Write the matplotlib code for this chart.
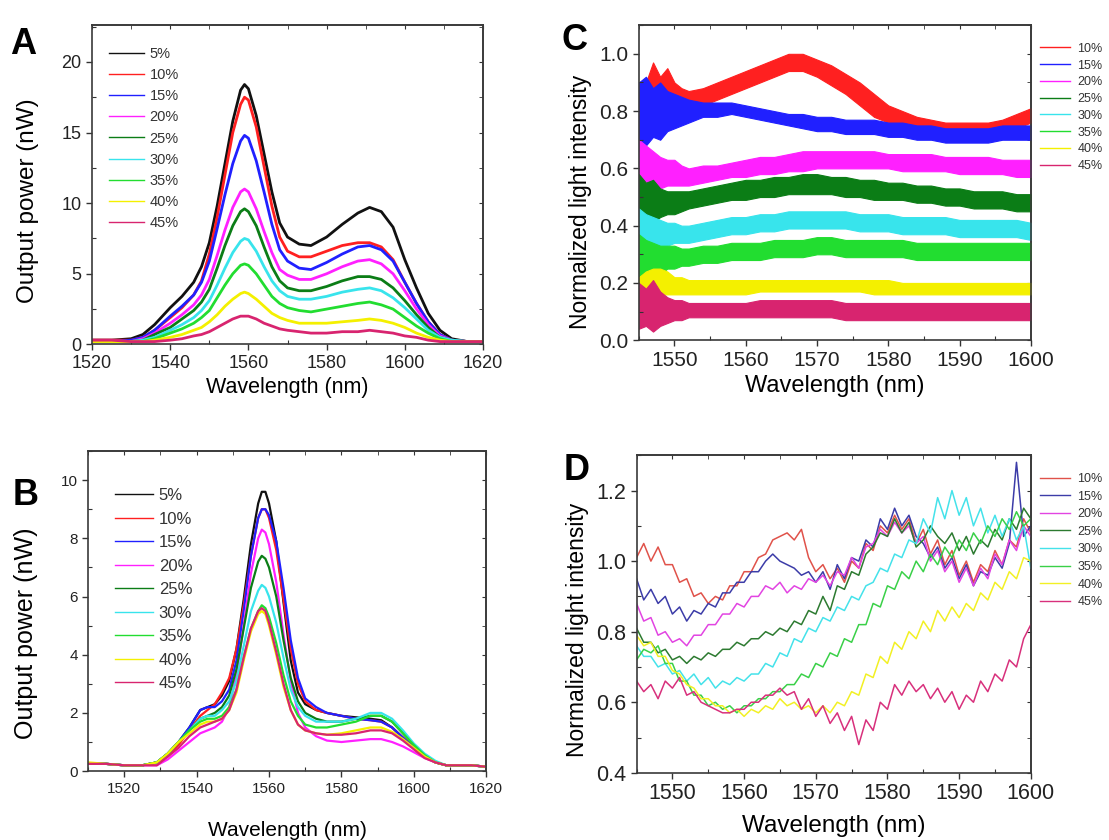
### ESPECTROS DE SALIDA Y SU INTENSIDAD NORMALIZADA (PANELES A-D) ###

import numpy as np
import matplotlib
matplotlib.use("Agg")
import matplotlib.pyplot as plt
from matplotlib.ticker import MultipleLocator
from matplotlib.lines import Line2D

plt.rcParams['font.family'] = ['Liberation Sans', 'DejaVu Sans']

# Etiquetas de las series
etiquetas_ab = ["5%", "10%", "15%", "20%", "25%", "30%", "35%", "40%", "45%"]
etiquetas_cd = ["10%", "15%", "20%", "25%", "30%", "35%", "40%", "45%"]

# Colores (5% ... 45%)
colores = ["#111111", "#ff2020", "#2020ff", "#ff20ff", "#0b7d16",
           "#38e4ec", "#22dd30", "#f4f000", "#d8246f"]
colores_d = ["#e0524a", "#3c3ca8", "#e244e2", "#2c7a30",
             "#44e2ea", "#3ad048", "#f2f024", "#d8307c"]

# ---------------- Panel A: potencia de salida (nW) ----------------
wl_a = [1520, 1525, 1530, 1533, 1536, 1540, 1543, 1546, 1548, 1550,
        1552, 1554, 1556, 1558, 1559, 1560, 1562, 1564, 1566, 1568,
        1570, 1573, 1576, 1580, 1584, 1588, 1591, 1594, 1597, 1600,
        1603, 1606, 1609, 1612, 1616, 1620]
a_05 = [0.3, 0.3, 0.4, 0.7, 1.4, 2.6, 3.4, 4.4, 5.5, 7.2,
        9.8, 12.8, 15.8, 18.0, 18.4, 18.1, 16.2, 13.5, 10.8, 8.6,
        7.6, 7.1, 7.0, 7.6, 8.5, 9.3, 9.7, 9.4, 8.3, 6.0,
        4.0, 2.2, 1.0, 0.4, 0.2, 0.2]
a_10 = [0.3, 0.3, 0.3, 0.5, 1.0, 1.9, 2.6, 3.5, 4.5, 6.4,
        9.0, 12.0, 15.0, 17.0, 17.5, 17.3, 15.4, 12.6, 9.8, 7.6,
        6.6, 6.2, 6.2, 6.6, 7.0, 7.2, 7.2, 6.9, 6.0, 4.4,
        2.9, 1.6, 0.7, 0.3, 0.2, 0.2]
a_15 = [0.2, 0.2, 0.3, 0.5, 1.0, 2.0, 2.7, 3.5, 4.4, 5.9,
        8.2, 10.6, 12.8, 14.4, 14.8, 14.6, 13.0, 10.8, 8.5, 6.7,
        5.9, 5.4, 5.3, 5.8, 6.4, 6.9, 7.0, 6.7, 5.9, 4.4,
        2.9, 1.6, 0.7, 0.3, 0.2, 0.2]
a_20 = [0.2, 0.2, 0.2, 0.4, 0.8, 1.5, 2.1, 2.8, 3.5, 4.6,
        6.3, 8.1, 9.7, 10.8, 11.0, 10.8, 9.6, 8.0, 6.5, 5.3,
        4.9, 4.6, 4.6, 5.0, 5.5, 5.9, 6.0, 5.7, 5.0, 3.8,
        2.5, 1.4, 0.6, 0.3, 0.2, 0.2]
a_25 = [0.2, 0.2, 0.2, 0.3, 0.7, 1.2, 1.8, 2.4, 3.0, 3.9,
        5.4, 7.0, 8.4, 9.4, 9.6, 9.4, 8.4, 6.9, 5.5, 4.5,
        4.0, 3.8, 3.8, 4.1, 4.5, 4.8, 4.8, 4.6, 4.0, 3.1,
        2.1, 1.2, 0.5, 0.3, 0.2, 0.2]
a_30 = [0.2, 0.2, 0.2, 0.3, 0.5, 1.0, 1.4, 1.9, 2.4, 3.1,
        4.2, 5.4, 6.5, 7.3, 7.5, 7.4, 6.6, 5.5, 4.5, 3.8,
        3.4, 3.2, 3.2, 3.4, 3.7, 3.9, 4.0, 3.8, 3.3, 2.6,
        1.8, 1.0, 0.5, 0.3, 0.2, 0.2]
a_35 = [0.2, 0.2, 0.2, 0.2, 0.4, 0.8, 1.1, 1.5, 1.9, 2.4,
        3.3, 4.2, 5.0, 5.6, 5.7, 5.6, 5.0, 4.2, 3.4, 2.9,
        2.6, 2.4, 2.3, 2.5, 2.7, 2.9, 3.0, 2.8, 2.5, 1.9,
        1.3, 0.8, 0.4, 0.2, 0.2, 0.2]
a_40 = [0.2, 0.2, 0.2, 0.2, 0.3, 0.5, 0.7, 1.0, 1.2, 1.6,
        2.1, 2.7, 3.2, 3.6, 3.7, 3.6, 3.2, 2.7, 2.2, 1.9,
        1.7, 1.5, 1.5, 1.5, 1.6, 1.7, 1.8, 1.7, 1.5, 1.2,
        0.8, 0.5, 0.3, 0.2, 0.2, 0.2]
a_45 = [0.3, 0.3, 0.2, 0.2, 0.2, 0.3, 0.4, 0.6, 0.7, 0.9,
        1.2, 1.5, 1.8, 2.0, 2.0, 2.0, 1.8, 1.5, 1.3, 1.1,
        1.0, 0.9, 0.8, 0.8, 0.9, 0.9, 1.0, 0.9, 0.8, 0.6,
        0.5, 0.3, 0.2, 0.2, 0.2, 0.2]

# ---------------- Panel B: potencia de salida (nW) ----------------
wl_b = [1510, 1515, 1520, 1525, 1529, 1532, 1535, 1538, 1541, 1543,
        1545, 1547, 1549, 1551, 1553, 1555, 1557, 1558, 1559, 1560,
        1562, 1564, 1566, 1568, 1570, 1573, 1576, 1580, 1584, 1588,
        1591, 1594, 1597, 1600, 1603, 1606, 1609, 1612, 1616, 1620]
b_05 = [0.25, 0.25, 0.2, 0.2, 0.3, 0.6, 1.0, 1.5, 2.1, 2.2,
        2.3, 2.6, 3.1, 4.2, 5.9, 7.8, 9.2, 9.6, 9.6, 9.2,
        7.9, 5.8, 3.8, 2.7, 2.3, 2.1, 2.0, 1.9, 1.85, 1.8,
        1.75, 1.5, 1.15, 0.8, 0.5, 0.3, 0.2, 0.2, 0.2, 0.15]
b_10 = [0.25, 0.25, 0.2, 0.2, 0.3, 0.5, 0.9, 1.4, 1.9, 2.1,
        2.3, 2.7, 3.2, 4.2, 5.7, 7.4, 8.7, 9.0, 9.0, 8.7,
        7.6, 5.9, 4.2, 3.0, 2.4, 2.1, 2.0, 1.9, 1.8, 1.75,
        1.7, 1.5, 1.15, 0.8, 0.5, 0.3, 0.2, 0.2, 0.2, 0.15]
b_15 = [0.25, 0.25, 0.2, 0.2, 0.3, 0.6, 1.0, 1.5, 2.1, 2.2,
        2.2, 2.4, 2.8, 3.8, 5.5, 7.4, 8.7, 9.0, 9.0, 8.8,
        7.9, 6.3, 4.5, 3.2, 2.5, 2.2, 2.0, 1.9, 1.8, 1.75,
        1.7, 1.5, 1.15, 0.8, 0.5, 0.3, 0.2, 0.2, 0.2, 0.15]
b_20 = [0.25, 0.25, 0.2, 0.2, 0.2, 0.4, 0.7, 1.0, 1.3, 1.4,
        1.5, 1.7, 2.2, 3.3, 5.0, 6.8, 8.0, 8.3, 8.2, 7.8,
        6.5, 4.7, 3.1, 2.0, 1.5, 1.2, 1.05, 1.0, 1.05, 1.1,
        1.1, 1.0, 0.85, 0.65, 0.45, 0.3, 0.2, 0.2, 0.2, 0.15]
b_25 = [0.25, 0.25, 0.2, 0.2, 0.3, 0.6, 1.0, 1.4, 1.8, 1.9,
        2.0, 2.2, 2.6, 3.5, 4.9, 6.3, 7.2, 7.4, 7.3, 7.0,
        6.0, 4.5, 3.2, 2.4, 2.0, 1.8, 1.7, 1.7, 1.8, 1.9,
        1.9, 1.7, 1.3, 0.9, 0.55, 0.3, 0.2, 0.2, 0.2, 0.15]
b_30 = [0.25, 0.25, 0.2, 0.2, 0.3, 0.6, 1.0, 1.4, 1.8, 1.9,
        1.9, 2.1, 2.4, 3.1, 4.3, 5.5, 6.2, 6.4, 6.3, 6.0,
        5.1, 3.9, 2.8, 2.2, 1.9, 1.7, 1.7, 1.7, 1.8, 2.0,
        2.0, 1.8, 1.4, 0.95, 0.6, 0.35, 0.2, 0.2, 0.2, 0.15]
b_35 = [0.25, 0.25, 0.2, 0.2, 0.3, 0.6, 1.0, 1.4, 1.7, 1.8,
        1.8, 1.9, 2.2, 2.8, 3.9, 4.9, 5.5, 5.7, 5.6, 5.3,
        4.4, 3.3, 2.4, 1.9, 1.6, 1.5, 1.5, 1.6, 1.7, 1.9,
        1.9, 1.7, 1.3, 0.9, 0.55, 0.3, 0.2, 0.2, 0.2, 0.15]
b_40 = [0.3, 0.25, 0.2, 0.2, 0.3, 0.6, 1.0, 1.3, 1.6, 1.7,
        1.7, 1.8, 2.1, 2.7, 3.8, 4.8, 5.4, 5.5, 5.4, 5.0,
        4.0, 2.9, 2.1, 1.6, 1.4, 1.3, 1.25, 1.3, 1.4, 1.5,
        1.5, 1.35, 1.1, 0.8, 0.5, 0.3, 0.2, 0.2, 0.2, 0.15]
b_45 = [0.25, 0.25, 0.2, 0.2, 0.2, 0.5, 0.8, 1.2, 1.5, 1.6,
        1.7, 1.8, 2.1, 2.8, 3.9, 4.9, 5.5, 5.6, 5.5, 5.1,
        4.1, 3.0, 2.1, 1.6, 1.4, 1.3, 1.25, 1.25, 1.3, 1.4,
        1.4, 1.3, 1.05, 0.75, 0.45, 0.3, 0.2, 0.2, 0.2, 0.15]

# ---------------- Panel C: intensidad normalizada (banda min-max) ----------------
wl_c = [1545, 1546, 1547, 1548, 1549, 1550, 1551, 1552, 1554, 1556,
        1558, 1560, 1562, 1564, 1566, 1568, 1570, 1572, 1574, 1576,
        1578, 1580, 1582, 1584, 1586, 1588, 1590, 1592, 1594, 1596,
        1598, 1600]
c_10_alto = [0.86, 0.90, 0.97, 0.92, 0.95, 0.90, 0.88, 0.87, 0.88, 0.90,
             0.92, 0.94, 0.96, 0.98, 1.00, 1.00, 0.98, 0.96, 0.93, 0.90,
             0.86, 0.82, 0.80, 0.78, 0.77, 0.76, 0.76, 0.76, 0.76, 0.77,
             0.79, 0.81]
c_10_bajo = [0.72, 0.70, 0.74, 0.73, 0.75, 0.77, 0.78, 0.79, 0.82, 0.84,
             0.86, 0.88, 0.90, 0.92, 0.94, 0.94, 0.92, 0.89, 0.86, 0.82,
             0.78, 0.76, 0.74, 0.73, 0.72, 0.72, 0.72, 0.72, 0.72, 0.73,
             0.74, 0.76]
c_15_alto = [0.90, 0.92, 0.88, 0.90, 0.87, 0.86, 0.85, 0.84, 0.83, 0.83,
             0.83, 0.82, 0.81, 0.80, 0.79, 0.79, 0.78, 0.78, 0.77, 0.77,
             0.77, 0.76, 0.76, 0.75, 0.75, 0.74, 0.74, 0.74, 0.74, 0.75,
             0.75, 0.75]
c_15_bajo = [0.66, 0.68, 0.71, 0.70, 0.73, 0.74, 0.75, 0.76, 0.78, 0.78,
             0.79, 0.78, 0.77, 0.76, 0.75, 0.74, 0.73, 0.73, 0.72, 0.72,
             0.72, 0.71, 0.71, 0.70, 0.70, 0.69, 0.69, 0.69, 0.69, 0.70,
             0.70, 0.70]
c_20_alto = [0.70, 0.68, 0.66, 0.64, 0.63, 0.63, 0.61, 0.60, 0.61, 0.61,
             0.62, 0.63, 0.64, 0.64, 0.65, 0.66, 0.66, 0.66, 0.66, 0.66,
             0.66, 0.65, 0.65, 0.65, 0.65, 0.64, 0.64, 0.64, 0.64, 0.63,
             0.63, 0.63]
c_20_bajo = [0.50, 0.52, 0.52, 0.53, 0.54, 0.54, 0.54, 0.54, 0.55, 0.56,
             0.57, 0.57, 0.58, 0.58, 0.59, 0.59, 0.60, 0.60, 0.60, 0.60,
             0.60, 0.60, 0.59, 0.59, 0.59, 0.59, 0.58, 0.58, 0.58, 0.58,
             0.57, 0.57]
c_25_alto = [0.58, 0.55, 0.56, 0.53, 0.52, 0.52, 0.52, 0.52, 0.53, 0.54,
             0.55, 0.56, 0.56, 0.57, 0.57, 0.58, 0.58, 0.57, 0.57, 0.56,
             0.56, 0.55, 0.55, 0.54, 0.54, 0.53, 0.53, 0.52, 0.52, 0.52,
             0.51, 0.51]
c_25_bajo = [0.36, 0.39, 0.41, 0.43, 0.44, 0.44, 0.45, 0.46, 0.47, 0.48,
             0.49, 0.49, 0.50, 0.50, 0.51, 0.51, 0.51, 0.51, 0.50, 0.50,
             0.49, 0.49, 0.49, 0.48, 0.48, 0.47, 0.47, 0.46, 0.46, 0.46,
             0.45, 0.45]
c_30_alto = [0.46, 0.44, 0.43, 0.42, 0.41, 0.41, 0.40, 0.40, 0.41, 0.42,
             0.43, 0.43, 0.44, 0.44, 0.45, 0.45, 0.45, 0.45, 0.45, 0.44,
             0.44, 0.44, 0.43, 0.43, 0.43, 0.43, 0.42, 0.42, 0.42, 0.42,
             0.42, 0.41]
c_30_bajo = [0.27, 0.29, 0.31, 0.32, 0.33, 0.34, 0.34, 0.34, 0.35, 0.36,
             0.37, 0.37, 0.38, 0.38, 0.39, 0.39, 0.39, 0.39, 0.39, 0.38,
             0.38, 0.38, 0.37, 0.37, 0.37, 0.37, 0.36, 0.36, 0.36, 0.36,
             0.36, 0.35]
c_35_alto = [0.37, 0.35, 0.34, 0.33, 0.33, 0.33, 0.32, 0.32, 0.33, 0.33,
             0.34, 0.34, 0.34, 0.35, 0.35, 0.35, 0.36, 0.36, 0.35, 0.35,
             0.35, 0.35, 0.35, 0.34, 0.34, 0.34, 0.34, 0.34, 0.34, 0.34,
             0.34, 0.34]
c_35_bajo = [0.20, 0.21, 0.22, 0.23, 0.25, 0.25, 0.26, 0.26, 0.27, 0.27,
             0.28, 0.28, 0.28, 0.29, 0.29, 0.29, 0.30, 0.30, 0.29, 0.29,
             0.29, 0.29, 0.29, 0.28, 0.28, 0.28, 0.28, 0.28, 0.28, 0.28,
             0.28, 0.28]
c_40_alto = [0.22, 0.24, 0.25, 0.25, 0.24, 0.22, 0.22, 0.21, 0.21, 0.21,
             0.21, 0.21, 0.21, 0.21, 0.21, 0.21, 0.21, 0.21, 0.21, 0.21,
             0.21, 0.21, 0.20, 0.20, 0.20, 0.20, 0.20, 0.20, 0.20, 0.20,
             0.20, 0.20]
c_40_bajo = [0.15, 0.16, 0.16, 0.16, 0.16, 0.16, 0.16, 0.16, 0.16, 0.16,
             0.16, 0.16, 0.17, 0.17, 0.17, 0.17, 0.17, 0.17, 0.17, 0.17,
             0.16, 0.16, 0.16, 0.16, 0.16, 0.16, 0.16, 0.16, 0.16, 0.16,
             0.16, 0.16]
c_45_alto = [0.20, 0.18, 0.21, 0.17, 0.15, 0.14, 0.14, 0.13, 0.13, 0.13,
             0.13, 0.13, 0.14, 0.14, 0.14, 0.14, 0.14, 0.14, 0.13, 0.13,
             0.13, 0.13, 0.13, 0.13, 0.13, 0.13, 0.13, 0.13, 0.13, 0.13,
             0.13, 0.13]
c_45_bajo = [0.04, 0.05, 0.03, 0.05, 0.06, 0.07, 0.07, 0.08, 0.08, 0.08,
             0.08, 0.08, 0.08, 0.08, 0.08, 0.08, 0.08, 0.08, 0.07, 0.07,
             0.07, 0.07, 0.07, 0.07, 0.07, 0.07, 0.07, 0.07, 0.07, 0.07,
             0.07, 0.07]

# ---------------- Panel D: intensidad normalizada ----------------
wl_d = np.arange(1545, 1601)
d_10 = [1.01, 1.05, 1.00, 1.04, 0.99, 0.99, 0.94, 0.95, 0.90, 0.91,
        0.88, 0.90, 0.89, 0.93, 0.93, 0.97, 0.97, 1.01, 1.02, 1.06,
        1.07, 1.08, 1.06, 1.09, 1.01, 0.97, 0.99, 0.95, 0.98, 0.94,
        1.00, 0.98, 1.05, 1.03, 1.10, 1.08, 1.13, 1.09, 1.12, 1.05,
        1.09, 1.02, 1.06, 0.99, 1.03, 0.96, 1.00, 0.94, 0.99, 0.97,
        1.03, 0.99, 1.06, 1.04, 1.12, 1.08]
d_15 = [0.95, 0.89, 0.92, 0.88, 0.90, 0.85, 0.87, 0.83, 0.86, 0.85,
        0.88, 0.87, 0.91, 0.91, 0.94, 0.94, 0.97, 0.97, 1.00, 1.02,
        1.00, 0.99, 0.98, 0.96, 0.97, 0.94, 0.97, 0.92, 0.99, 0.95,
        1.01, 1.00, 1.06, 1.04, 1.12, 1.09, 1.15, 1.10, 1.13, 1.07,
        1.05, 1.01, 1.04, 0.98, 1.01, 0.95, 0.99, 0.93, 0.97, 0.96,
        1.01, 0.98, 1.05, 1.28, 1.07, 1.10]
d_20 = [0.88, 0.83, 0.84, 0.79, 0.80, 0.77, 0.78, 0.76, 0.79, 0.79,
        0.82, 0.82, 0.85, 0.85, 0.88, 0.87, 0.90, 0.90, 0.93, 0.92,
        0.94, 0.91, 0.93, 0.92, 0.95, 0.94, 0.96, 0.93, 0.97, 0.96,
        1.01, 0.98, 1.04, 1.05, 1.09, 1.07, 1.11, 1.08, 1.10, 1.05,
        1.07, 1.00, 1.03, 0.97, 1.00, 0.94, 0.98, 0.93, 0.98, 0.95,
        1.02, 0.99, 1.06, 1.03, 1.10, 1.07]
d_25 = [0.81, 0.77, 0.77, 0.74, 0.75, 0.72, 0.73, 0.71, 0.73, 0.72,
        0.74, 0.73, 0.75, 0.75, 0.77, 0.76, 0.78, 0.78, 0.80, 0.79,
        0.81, 0.80, 0.83, 0.82, 0.86, 0.85, 0.90, 0.86, 0.93, 0.92,
        0.97, 0.96, 1.02, 1.04, 1.08, 1.07, 1.12, 1.08, 1.11, 1.04,
        1.06, 1.10, 1.07, 1.05, 1.08, 1.03, 1.07, 1.02, 1.06, 1.04,
        1.09, 1.06, 1.12, 1.09, 1.15, 1.12]
d_30 = [0.76, 0.73, 0.73, 0.70, 0.71, 0.68, 0.69, 0.66, 0.68, 0.65,
        0.67, 0.64, 0.66, 0.65, 0.67, 0.66, 0.68, 0.68, 0.71, 0.70,
        0.74, 0.73, 0.78, 0.77, 0.81, 0.80, 0.84, 0.83, 0.87, 0.86,
        0.90, 0.89, 0.93, 0.94, 0.98, 0.97, 1.02, 1.01, 1.06, 1.05,
        1.12, 1.08, 1.18, 1.12, 1.20, 1.13, 1.18, 1.10, 1.15, 1.08,
        1.13, 1.07, 1.12, 1.06, 1.10, 0.98]
d_35 = [0.72, 0.75, 0.74, 0.76, 0.71, 0.71, 0.66, 0.66, 0.62, 0.62,
        0.59, 0.60, 0.58, 0.59, 0.57, 0.59, 0.59, 0.61, 0.61, 0.63,
        0.63, 0.65, 0.65, 0.68, 0.67, 0.71, 0.70, 0.74, 0.73, 0.78,
        0.77, 0.82, 0.82, 0.88, 0.87, 0.93, 0.92, 0.97, 0.95, 1.00,
        0.97, 1.02, 0.99, 1.04, 1.01, 1.06, 1.03, 1.08, 1.05, 1.10,
        1.07, 1.12, 1.09, 1.14, 1.10, 1.12]
d_40 = [0.79, 0.76, 0.77, 0.73, 0.73, 0.69, 0.68, 0.65, 0.64, 0.61,
        0.61, 0.59, 0.59, 0.57, 0.58, 0.56, 0.58, 0.57, 0.59, 0.58,
        0.61, 0.59, 0.60, 0.58, 0.59, 0.57, 0.59, 0.57, 0.60, 0.59,
        0.63, 0.62, 0.68, 0.67, 0.73, 0.71, 0.77, 0.75, 0.80, 0.78,
        0.83, 0.80, 0.86, 0.83, 0.87, 0.84, 0.88, 0.86, 0.91, 0.89,
        0.94, 0.92, 0.97, 0.95, 1.01, 1.00]
d_45 = [0.66, 0.63, 0.65, 0.61, 0.66, 0.64, 0.67, 0.62, 0.63, 0.60,
        0.59, 0.58, 0.57, 0.57, 0.58, 0.58, 0.60, 0.60, 0.62, 0.62,
        0.64, 0.62, 0.63, 0.58, 0.61, 0.56, 0.59, 0.54, 0.57, 0.52,
        0.56, 0.48, 0.55, 0.52, 0.60, 0.58, 0.65, 0.62, 0.66, 0.63,
        0.65, 0.61, 0.64, 0.60, 0.63, 0.58, 0.62, 0.60, 0.66, 0.63,
        0.68, 0.66, 0.72, 0.70, 0.78, 0.82]

series_a = [a_05, a_10, a_15, a_20, a_25, a_30, a_35, a_40, a_45]
series_b = [b_05, b_10, b_15, b_20, b_25, b_30, b_35, b_40, b_45]
bandas_c = [(c_10_bajo, c_10_alto), (c_15_bajo, c_15_alto), (c_20_bajo, c_20_alto),
            (c_25_bajo, c_25_alto), (c_30_bajo, c_30_alto), (c_35_bajo, c_35_alto),
            (c_40_bajo, c_40_alto), (c_45_bajo, c_45_alto)]
series_d = [d_10, d_15, d_20, d_25, d_30, d_35, d_40, d_45]


# Función para dar el estilo de ejes tipo Origin
def estilo_ejes(ax, xmaj, xmin, ymaj, ymin, tam):
    ax.xaxis.set_major_locator(MultipleLocator(xmaj))
    ax.xaxis.set_minor_locator(MultipleLocator(xmin))
    ax.yaxis.set_major_locator(MultipleLocator(ymaj))
    ax.yaxis.set_minor_locator(MultipleLocator(ymin))
    ax.tick_params(which="major", direction="out", length=4, width=1,
                   labelsize=tam, colors="#333333", labelcolor="#222222")
    ax.tick_params(which="minor", direction="in", length=3, width=0.8, colors="#333333")
    for lado in ax.spines.values():
        lado.set_linewidth(1.2)
        lado.set_color("#3a3a3a")

    arriba = ax.secondary_xaxis("top")
    arriba.xaxis.set_major_locator(MultipleLocator(xmaj))
    arriba.xaxis.set_minor_locator(MultipleLocator(xmin))
    arriba.tick_params(axis="x", which="both", direction="in", length=3,
                       labeltop=False, colors="#333333")
    arriba.spines["top"].set_linewidth(1.2)
    arriba.spines["top"].set_color("#3a3a3a")

    derecha = ax.secondary_yaxis("right")
    derecha.yaxis.set_major_locator(MultipleLocator(ymaj))
    derecha.yaxis.set_minor_locator(MultipleLocator(ymin))
    derecha.tick_params(axis="y", which="both", direction="in", length=3,
                        labelright=False, colors="#333333")
    derecha.spines["right"].set_linewidth(1.2)
    derecha.spines["right"].set_color("#3a3a3a")


# Leyenda con texto gris y líneas finas
def leyenda(ax, manejadores, etiquetas, ancla, tam, largo, sep, pad):
    ley = ax.legend(manejadores, etiquetas, loc="upper left", bbox_to_anchor=ancla,
                    frameon=False, fontsize=tam, handlelength=largo,
                    handletextpad=pad, labelspacing=sep, borderaxespad=0)
    for texto in ley.get_texts():
        texto.set_color("#333333")
    return ley


# Gráfica A
def grafica_a(ax):
    for valores, color in zip(series_a, colores):
        ax.plot(wl_a, valores, color=color, lw=2.0)
    ax.set_xlim(1520, 1620)
    ax.set_ylim(0, 22.6)
    estilo_ejes(ax, 20, 10, 5, 2.5, 13)
    ax.set_xlabel("Wavelength (nm)", fontsize=15.5)
    ax.set_ylabel("Output power (nW)", fontsize=17.5)
    ax.yaxis.set_label_coords(-0.135, 0.45)
    manejadores = [Line2D([], [], color=c, lw=1.0) for c in colores]
    leyenda(ax, manejadores, etiquetas_ab, (0.028, 0.95), 10.5, 2.4, 0.49, 0.4)


# Gráfica B
def grafica_b(ax):
    for valores, color in zip(series_b, colores):
        ax.plot(wl_b, valores, color=color, lw=1.6)
    ax.set_xlim(1510, 1620)
    ax.set_ylim(0, 11)
    estilo_ejes(ax, 20, 10, 2, 1, 11)
    ax.set_xlabel("Wavelength (nm)", fontsize=15, labelpad=18)
    ax.set_ylabel("Output power (nW)", fontsize=18)
    ax.yaxis.set_label_coords(-0.125, 0.43)
    manejadores = [Line2D([], [], color=c, lw=1.0) for c in colores]
    leyenda(ax, manejadores, etiquetas_ab, (0.05, 0.905), 12, 2.3, 0.51, 0.35)


# Gráfica C
def grafica_c(ax):
    for (bajo, alto), color in zip(bandas_c, colores[1:]):
        ax.fill_between(wl_c, bajo, alto, color=color, lw=0.8, edgecolor=color)
    ax.set_xlim(1545, 1600)
    ax.set_ylim(0, 1.1)
    estilo_ejes(ax, 10, 5, 0.2, 0.1, 15)
    ax.set_xlabel("Wavelength (nm)", fontsize=17)
    ax.set_ylabel("Normalized light intensity", fontsize=16.5)
    ax.yaxis.set_label_coords(-0.12, 0.44)
    manejadores = [Line2D([], [], color=c, lw=1.0) for c in colores[1:]]
    leyenda(ax, manejadores, etiquetas_cd, (1.01, 0.96), 9, 2.4, 0.38, 0.6)


# Gráfica D
def grafica_d(ax):
    for valores, color in zip(series_d, colores_d):
        ax.plot(wl_d, valores, color=color, lw=1.1)
    ax.set_xlim(1545, 1600)
    ax.set_ylim(0.4, 1.3)
    estilo_ejes(ax, 10, 5, 0.2, 0.1, 15.5)
    ax.set_xlabel("Wavelength (nm)", fontsize=17.5, labelpad=8)
    ax.set_ylabel("Normalized light intensity", fontsize=16.5)
    ax.yaxis.set_label_coords(-0.12, 0.45)
    manejadores = [Line2D([], [], color=c, lw=1.0) for c in colores_d]
    leyenda(ax, manejadores, etiquetas_cd, (1.01, 0.96), 9, 2.4, 0.45, 0.6)


def main():
    fig = plt.figure(figsize=(11.09, 8.4), dpi=100)

    ax_a = fig.add_axes([0.083, 0.590, 0.3525, 0.380])
    ax_c = fig.add_axes([0.576, 0.595, 0.3535, 0.375])
    ax_b = fig.add_axes([0.0794, 0.082, 0.359, 0.381])
    ax_d = fig.add_axes([0.574, 0.080, 0.3555, 0.378])

    grafica_a(ax_a)
    grafica_b(ax_b)
    grafica_c(ax_c)
    grafica_d(ax_d)

    # Letras de cada panel
    fig.text(0.009, 0.936, "A", fontsize=26, fontweight="bold", va="baseline")
    fig.text(0.011, 0.399, "B", fontsize=26, fontweight="bold", va="baseline")
    fig.text(0.506, 0.940, "C", fontsize=26, fontweight="bold", va="baseline")
    fig.text(0.508, 0.429, "D", fontsize=26, fontweight="bold", va="baseline")

    fig.savefig("out.png", dpi=100)


if __name__ == "__main__":
    main()
